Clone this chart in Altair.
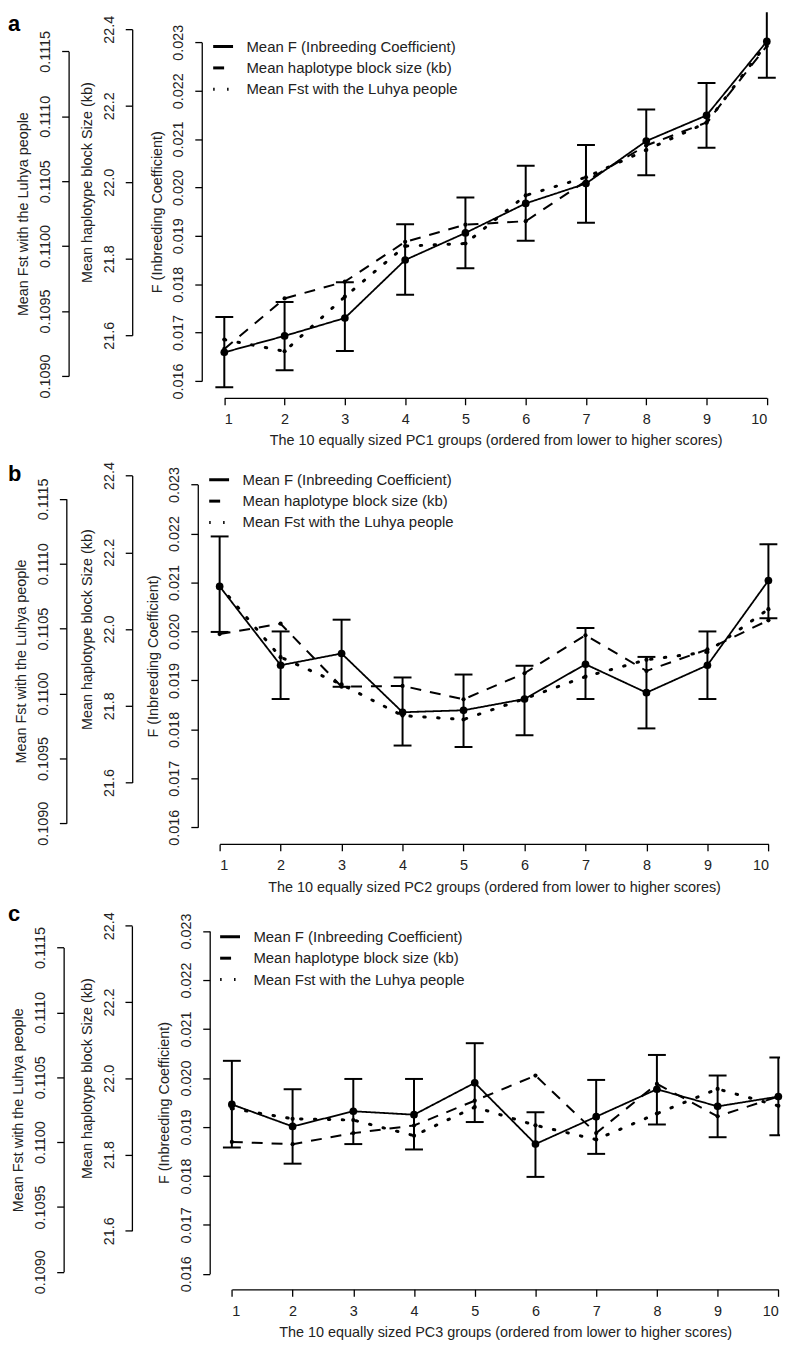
import altair as alt
import pandas as pd

FONT = "Liberation Sans"
TXT = "#222222"

groups = list(range(1, 11))

LBL_F = "Mean F (Inbreeding Coefficient)"
LBL_H = "Mean haplotype block size (kb)"
LBL_S = "Mean Fst with the Luhya people"

f_ticks = [0.016, 0.017, 0.018, 0.019, 0.020, 0.021, 0.022, 0.023]
h_ticks = [21.6, 21.8, 22.0, 22.2, 22.4]
s_ticks = [0.1090, 0.1095, 0.1100, 0.1105, 0.1110, 0.1115]

# ---- panel a (PC1) ----
F_a = [0.01659, 0.01693, 0.01730, 0.01850, 0.01906, 0.01967, 0.02008, 0.02096, 0.02149, 0.02302]
Flo_a = [0.01587, 0.01622, 0.01662, 0.01778, 0.01833, 0.01890, 0.01927, 0.02025, 0.02082, 0.02227]
Fhi_a = [0.01732, 0.01763, 0.01804, 0.01924, 0.01979, 0.02045, 0.02088, 0.02161, 0.02216, 0.02375]
hap_a = [21.564, 21.696, 21.740, 21.844, 21.889, 21.898, 22.003, 22.096, 22.156, 22.356]
fst_a = [0.10928, 0.10919, 0.10961, 0.11000, 0.11002, 0.11039, 0.11053, 0.11074, 0.11095, 0.11156]

# ---- panel b (PC2) ----
F_b = [0.02092, 0.01931, 0.01955, 0.01835, 0.01839, 0.01862, 0.01933, 0.01875, 0.01931, 0.02104]
Flo_b = [0.01999, 0.01862, 0.01887, 0.01767, 0.01764, 0.01788, 0.01862, 0.01802, 0.01862, 0.02027]
Fhi_b = [0.02194, 0.02000, 0.02024, 0.01906, 0.01912, 0.01930, 0.02007, 0.01948, 0.02000, 0.02178]
hap_b = [21.987, 22.014, 21.850, 21.852, 21.817, 21.885, 21.984, 21.891, 21.947, 22.023]
fst_b = [0.11083, 0.11028, 0.11007, 0.10983, 0.10980, 0.10996, 0.11013, 0.11026, 0.11032, 0.11065]

# ---- panel c (PC3) ----
F_c = [0.01946, 0.01901, 0.01932, 0.01925, 0.01990, 0.01865, 0.01921, 0.01977, 0.01942, 0.01962]
Flo_c = [0.01858, 0.01825, 0.01865, 0.01854, 0.01910, 0.01798, 0.01845, 0.01905, 0.01879, 0.01883]
Fhi_c = [0.02035, 0.01977, 0.01998, 0.01998, 0.02071, 0.01930, 0.01996, 0.02047, 0.02005, 0.02042]
hap_c = [21.833, 21.827, 21.856, 21.876, 21.941, 22.007, 21.856, 21.985, 21.900, 21.952]
fst_c = [0.11026, 0.11018, 0.11017, 0.11005, 0.11027, 0.11013, 0.11002, 0.11022, 0.11041, 0.11028]

# layout geometry (pixels inside each panel)
GEO = {
    "a": dict(H=448, xr=[217.7, 763.7], xoff=-60, fr=[371, 30.3], foff=-195,
              hr=[325, 17], hoff=-125, sr=[366, 39.3], soff=-61, lx=205, ly=23, ty=19),
    "b": dict(H=444, xr=[213, 765.3], xoff=-55, fr=[372.3, 27.3], foff=-191,
              hr=[327.3, 18.3], hoff=-125, sr=[368.3, 41.7], soff=-58.7, lx=201, ly=11, ty=24),
    "c": dict(H=433, xr=[225.3, 775.3], xoff=-39.7, fr=[377.7, 32.7], foff=-203,
              hr=[334.3, 27.3], hoff=-124.7, sr=[375.7, 49.3], soff=-56, lx=212, ly=27, ty=23),
}

W = 777
FS = 14.5

dash_scale = alt.Scale(domain=[LBL_F, LBL_H, LBL_S], range=[[1, 0], [11, 9], [1.5, 12.5]])


def yaxis(title, values, fmt, offset):
    return alt.Axis(
        title=title, values=values, format=fmt, orient="left", offset=offset,
        labelAngle=-90, labelAlign="center", labelBaseline="middle", labelPadding=16,
        tickSize=7, tickWidth=1.3, domainWidth=1.3, domainColor="black", tickColor="black",
        labelFontSize=FS, labelColor=TXT, labelFont=FONT,
        titleFontSize=FS, titleFontWeight="normal", titleColor=TXT, titleFont=FONT,
        titlePadding=7, grid=False,
    )


def panel(letter, pc, F, Flo, Fhi, hap, fst):
    g = GEO[letter]
    df = pd.DataFrame({"g": groups, "F": F, "Flo": Flo, "Fhi": Fhi, "hap": hap, "fst": fst})
    base = alt.Chart(df)

    xenc = alt.X(
        "g:Q",
        scale=alt.Scale(domain=[1, 10], range=g["xr"], nice=False, zero=False),
        axis=alt.Axis(
            values=groups, format="d", orient="bottom", offset=g["xoff"],
            title=f"The 10 equally sized {pc} groups (ordered from lower to higher scores)",
            tickSize=7, tickWidth=1.3, domainWidth=1.3, domainColor="black", tickColor="black",
            labelFontSize=FS, labelColor=TXT, labelFont=FONT, labelPadding=8, labelAngle=0,
            titleFontSize=FS, titleFontWeight="normal", titleColor=TXT, titleFont=FONT,
            titlePadding=8, grid=False,
        ),
    )

    legend = alt.Legend(
        title=None, orient="none", legendX=g["lx"], legendY=g["ly"], padding=0, offset=0,
        symbolType="stroke", symbolSize=400, symbolStrokeWidth=3, symbolStrokeColor="black",
        labelFont=FONT, labelFontSize=15, labelColor=TXT, labelOffset=12, labelLimit=0,
        rowPadding=1.5,
    )

    def dash(lbl):
        return alt.StrokeDash("series:N", scale=dash_scale, legend=legend)

    fscale = alt.Scale(domain=[0.016, 0.023], range=g["fr"], nice=False, zero=False)
    faxis = yaxis("F (Inbreeding Coefficient)", f_ticks, ".3f", g["foff"])
    hscale = alt.Scale(domain=[21.6, 22.4], range=g["hr"], nice=False, zero=False)
    haxis = yaxis("Mean haplotype block Size (kb)", h_ticks, ".1f", g["hoff"])
    sscale = alt.Scale(domain=[0.1090, 0.1115], range=g["sr"], nice=False, zero=False)
    saxis = yaxis("Mean Fst with the Luhya people", s_ticks, ".4f", g["soff"])

    def yF(field):
        return alt.Y(f"{field}:Q", scale=fscale, axis=faxis)

    f_rule = base.mark_rule(color="black", strokeWidth=2, clip=True).encode(
        x=xenc, y=yF("Flo"), y2="Fhi")
    f_lo = base.mark_tick(orient="horizontal", size=18, thickness=2, color="black",
                          opacity=1, clip=True).encode(x=xenc, y=yF("Flo"))
    f_hi = base.mark_tick(orient="horizontal", size=18, thickness=2, color="black",
                          opacity=1, clip=True).encode(x=xenc, y=yF("Fhi"))
    f_line = base.transform_calculate(series=f"'{LBL_F}'").mark_line(
        color="black", strokeWidth=1.8).encode(x=xenc, y=yF("F"), strokeDash=dash(LBL_F))
    f_pts = base.mark_point(filled=True, size=60, color="black", opacity=1).encode(
        x=xenc, y=yF("F"))
    f_group = alt.layer(f_rule, f_lo, f_hi, f_line, f_pts)

    yH = alt.Y("hap:Q", scale=hscale, axis=haxis)
    h_line = base.transform_calculate(series=f"'{LBL_H}'").mark_line(
        color="black", strokeWidth=2).encode(x=xenc, y=yH, strokeDash=dash(LBL_H))
    h_pts = base.mark_point(filled=True, size=18, color="black", opacity=1).encode(x=xenc, y=yH)
    h_group = alt.layer(h_line, h_pts)

    yS = alt.Y("fst:Q", scale=sscale, axis=saxis)
    s_line = base.transform_calculate(series=f"'{LBL_S}'").mark_line(
        color="black", strokeWidth=3, strokeCap="round").encode(x=xenc, y=yS, strokeDash=dash(LBL_S))
    s_pts = base.mark_point(filled=True, size=18, color="black", opacity=1).encode(x=xenc, y=yS)
    s_group = alt.layer(s_line, s_pts)

    tag = alt.Chart(alt.Data(values=[{"t": letter}])).mark_text(
        align="left", baseline="alphabetic", fontSize=22, fontWeight="bold",
        font=FONT, color="black").encode(x=alt.value(0), y=alt.value(g["ty"]), text="t:N")

    return alt.layer(f_group, h_group, s_group, tag).resolve_scale(y="independent").properties(
        width=W, height=g["H"])


pa = panel("a", "PC1", F_a, Flo_a, Fhi_a, hap_a, fst_a)
pb = panel("b", "PC2", F_b, Flo_b, Fhi_b, hap_b, fst_b)
pcc = panel("c", "PC3", F_c, Flo_c, Fhi_c, hap_c, fst_c)

chart = (
    alt.vconcat(pa, pb, pcc, spacing=0)
    .resolve_scale(strokeDash="independent")
    .resolve_legend(strokeDash="independent")
    .properties(padding=0, background="white")
    .configure(font=FONT)
    .configure_view(strokeWidth=0, stroke="transparent", fill="white")
)

chart.save("out.html", embed_options={"renderer": "svg", "actions": False})
